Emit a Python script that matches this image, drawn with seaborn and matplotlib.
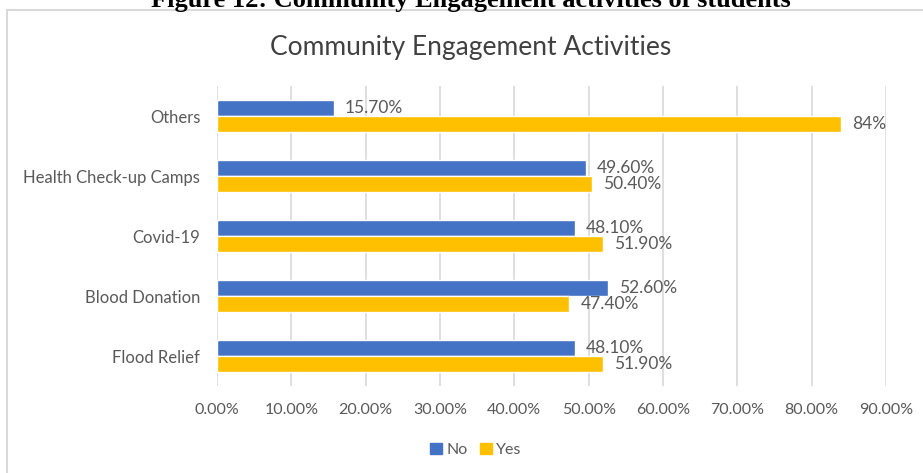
import matplotlib
matplotlib.use("Agg")
import matplotlib.pyplot as plt
import matplotlib.patches as mpatches
import seaborn as sns
import pandas as pd

# Survey results: share of students per activity
activities = ["Others", "Health Check-up Camps", "Covid-19", "Blood Donation", "Flood Relief"]
no_pct = [15.70, 49.60, 48.10, 52.60, 48.10]
yes_pct = [84, 50.40, 51.90, 47.40, 51.90]
responses = ["No", "Yes"]
x_ticks = [0, 10, 20, 30, 40, 50, 60, 70, 80, 90]

blue = "#4472C4"
gold = "#FFC000"
text_col = "#595959"
grid_col = "#D9D9D9"

df = pd.DataFrame({
    "Activity": activities * 2,
    "Response": [responses[0]] * len(activities) + [responses[1]] * len(activities),
    "Percent": no_pct + yes_pct,
})

sns.set_theme(style="white")
plt.rcParams["font.family"] = ["Lato", "DejaVu Sans"]

W, H = 923, 473
fig = plt.figure(figsize=(W / 100, H / 100), dpi=100)
ax = fig.add_axes([217 / W, 1 - 386 / H, (886 - 217) / W, 300 / H])

sns.barplot(data=df, y="Activity", x="Percent", hue="Response",
            order=activities, hue_order=responses,
            palette=[blue, gold], orient="h", width=0.53,
            saturation=1, errorbar=None, legend=False, ax=ax, zorder=3)

ax.set_xlim(0, 90)
ax.set_ylim(len(activities) - 0.5, -0.5)
ax.set_xticks(x_ticks)
ax.set_xticklabels([f"{t:.2f}%" for t in x_ticks])
ax.set_xlabel("")
ax.set_ylabel("")
ax.grid(axis="x", color=grid_col, linewidth=1.2, zorder=0)
ax.grid(axis="y", visible=False)
for s in ax.spines.values():
    s.set_visible(False)
ax.tick_params(axis="both", length=0, labelcolor=text_col)
ax.tick_params(axis="y", pad=12, labelsize=12)
ax.tick_params(axis="x", pad=12, labelsize=11.5)


def fmt(v):
    return f"{int(v)}%" if float(v).is_integer() else f"{v:.2f}%"


for container, vals in zip(ax.containers, [no_pct, yes_pct]):
    ax.bar_label(container, labels=[fmt(v) for v in vals], padding=8,
                 fontsize=12.5, color=text_col)

# Chart title
fig.text(471 / W, 1 - 47 / H, "Community Engagement Activities",
         ha="center", va="center", fontsize=19, color="#404040")

# Legend
handles = [mpatches.Patch(color=blue, label="No"), mpatches.Patch(color=gold, label="Yes")]
fig.legend(handles=handles, loc="center", bbox_to_anchor=(476 / W, 1 - 450 / H),
           ncol=2, frameon=False, fontsize=11.5, handlelength=0.7, handleheight=0.7,
           handletextpad=0.3, columnspacing=0.8, labelcolor=text_col)

# Chart area border
fig.add_artist(mpatches.Rectangle((7 / W, -0.1), 1.2, 1 - 10 / H + 0.1,
                                  transform=fig.transFigure, fill=False,
                                  edgecolor=grid_col, linewidth=1.5))

# Document caption above the chart
fig.text(471 / W, 1 - 6.5 / H, "Figure 12: Community Engagement activities of students",
         ha="center", va="baseline", fontsize=19, fontweight="bold",
         family=["Liberation Serif", "DejaVu Serif"], color="black")

fig.savefig("out.png", dpi=100)
